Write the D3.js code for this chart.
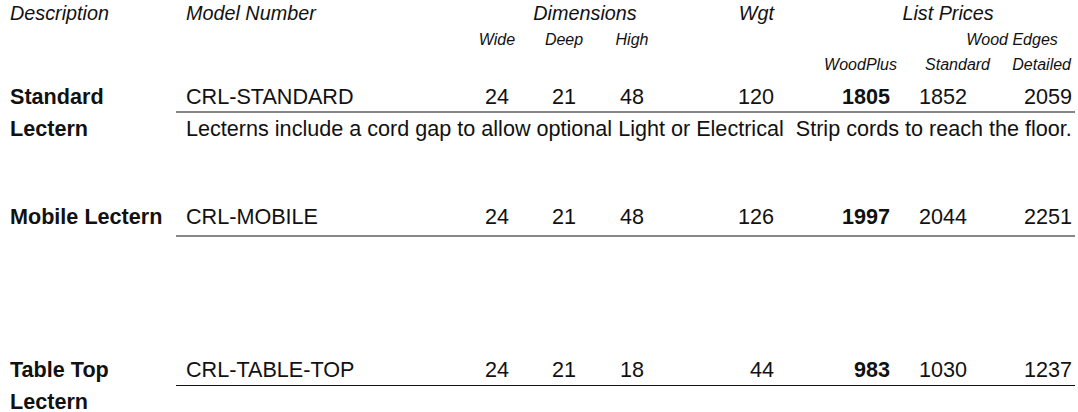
<!DOCTYPE html>
<html><head><meta charset="utf-8">
<script src="https://cdn.jsdelivr.net/npm/d3@7"></script>
<style>body{margin:0;background:#fff}svg{display:block}text{font-family:"Liberation Sans",Arial,sans-serif;fill:#111;white-space:pre}</style>
</head><body><svg id="c" width="1078" height="412"></svg>
<script>
// ---- data ----
const descriptions = [["Standard", "Lectern"], ["Mobile Lectern"], ["Table Top", "Lectern"]];
const models = ["CRL-STANDARD", "CRL-MOBILE", "CRL-TABLE-TOP"];
const wide = [24, 24, 24];
const deep = [21, 21, 21];
const high = [48, 48, 18];
const weight = [120, 126, 44];
const woodPlus = [1805, 1997, 983];
const woodStandard = [1852, 2044, 1030];
const woodDetailed = [2059, 2251, 1237];
const notes = ["Lecterns include a cord gap to allow optional Light or Electrical  Strip cords to reach the floor.", "", ""];
const headers = ["Description", "Model Number", "Dimensions", "Wgt", "List Prices"];
const dimLabels = ["Wide", "Deep", "High"];
const edgeGroup = "Wood Edges";
const priceLabels = ["WoodPlus", "Standard", "Detailed"];

// ---- layout ----
const svg = d3.select("#c");
const fs = 21.6;
const x = d3.scaleOrdinal()
  .domain(["desc","model","wide","deep","high","wgt","wp","ws","wd"])
  .range([10, 186, 497, 564, 632, 774, 890, 967, 1072]);
const anchor = {desc:"start", model:"start", wide:"middle", deep:"middle", high:"middle", wgt:"end", wp:"end", ws:"end", wd:"end"};
const rowY = d3.scaleOrdinal().domain([0,1,2]).range([104, 224, 377]);
const lineY = d3.scaleOrdinal().domain([0,1,2]).range([112, 236, 385.5]);
const lineGap = 31.5;

// header
const h1 = 20, h2 = 45, h3 = 70;
const hdrPos = [[x("desc"),"start"],[x("model"),"start"],[585,"middle"],[x("wgt"),"end"],[948,"middle"]];
svg.selectAll("text.h1").data(headers).join("text").attr("class","h1")
  .attr("x",(d,i)=>hdrPos[i][0]).attr("y",h1).attr("text-anchor",(d,i)=>hdrPos[i][1])
  .attr("font-style","italic").attr("font-size",19.8).text(d=>d);
svg.selectAll("text.h2").data(dimLabels).join("text").attr("class","h2")
  .attr("x",(d,i)=>x(["wide","deep","high"][i])).attr("y",h2).attr("text-anchor","middle")
  .attr("font-style","italic").attr("font-size",16).text(d=>d);
svg.append("text").attr("x",1012).attr("y",h2).attr("text-anchor","middle")
  .attr("font-style","italic").attr("font-size",16).text(edgeGroup);
const priceHdrX = [897, 990, 1071];
svg.selectAll("text.h3").data(priceLabels).join("text").attr("class","h3")
  .attr("x",(d,i)=>priceHdrX[i]).attr("y",h3).attr("text-anchor","end")
  .attr("font-style","italic").attr("font-size",16).text(d=>d);

// rows
const rows = models.map((m,i)=>({i, desc:descriptions[i], model:m, wide:wide[i], deep:deep[i], high:high[i], wgt:weight[i], wp:woodPlus[i], ws:woodStandard[i], wd:woodDetailed[i], note:notes[i]}));
const g = svg.selectAll("g.row").data(rows).join("g").attr("class","row");
g.each(function(r){
  const gg = d3.select(this);
  const y = rowY(r.i);
  r.desc.forEach((t,k)=>gg.append("text").attr("x",x("desc")).attr("y",y+k*lineGap).attr("font-weight","bold").attr("font-size",fs).text(t));
  ["model","wide","deep","high","wgt","wp","ws","wd"].forEach(k=>{
    gg.append("text").attr("x",x(k)).attr("y",y).attr("text-anchor",anchor[k])
      .attr("font-size",fs).attr("font-weight",k==="wp"?"bold":"normal").text(r[k]);
  });
  gg.append("line").attr("x1",176).attr("x2",1075).attr("y1",lineY(r.i)).attr("y2",lineY(r.i)).attr("stroke","#111").attr("stroke-width",1.2);
  if(r.note) gg.append("text").attr("x",x("model")).attr("y",y+lineGap).attr("font-size",fs).text(r.note);
});
</script></body></html>
